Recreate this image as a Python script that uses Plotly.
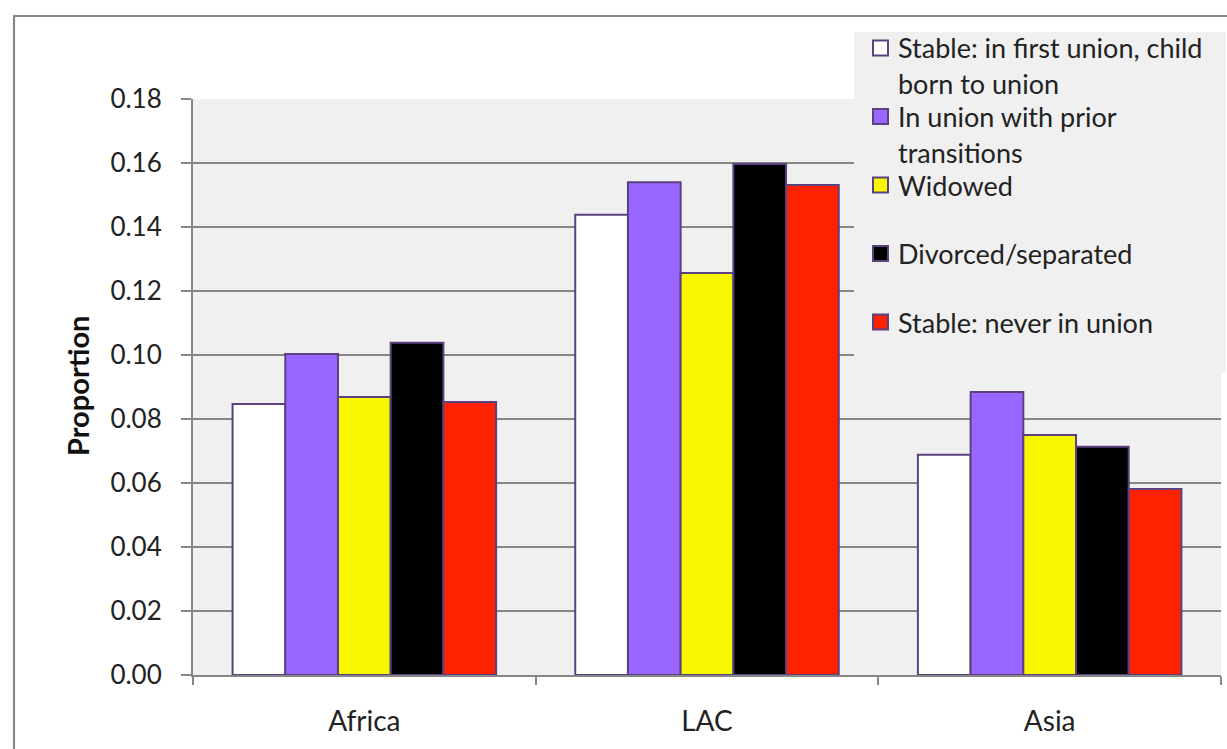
import plotly.graph_objects as go

# Regions and marital-status series
regions = ["Africa", "LAC", "Asia"]
series_names = [
    "Stable: in first union, child born to union",
    "In union with prior transitions",
    "Widowed",
    "Divorced/separated",
    "Stable: never in union",
]
legend_lines = [
    ["Stable: in first union, child", "born to union"],
    ["In union with prior", "transitions"],
    ["Widowed"],
    ["Divorced/separated"],
    ["Stable: never in union"],
]
stable_first_union = [0.0847, 0.1438, 0.0688]
union_prior_transitions = [0.1003, 0.1540, 0.0884]
widowed = [0.0869, 0.1256, 0.0750]
divorced_separated = [0.1038, 0.1597, 0.0713]
stable_never_union = [0.0853, 0.1531, 0.0581]
series_values = [stable_first_union, union_prior_transitions, widowed,
                 divorced_separated, stable_never_union]
colors = ["#FFFFFF", "#9966FF", "#F8F600", "#000000", "#FF2200"]
outline = "#5B4180"

y_ticks = [0.00, 0.02, 0.04, 0.06, 0.08, 0.10, 0.12, 0.14, 0.16, 0.18]

W, H = 1227, 749
L, R, T, B = 193, 6, 99, 74
pw, ph = W - L - R, H - T - B


def px_x(x):
    return (x - L) / pw


def px_y(y):
    return (H - B - y) / ph


FONT = "Lato, Calibri, Carlito, sans-serif"
GRAY = "#868686"

fig = go.Figure()
for name, vals, col in zip(series_names, series_values, colors):
    fig.add_trace(go.Bar(
        x=regions, y=vals, name=name,
        marker=dict(color=col, line=dict(color=outline, width=2)),
        showlegend=False,
    ))

shapes = []
annotations = []

# outer chart border
shapes.append(dict(type="rect", xref="paper", yref="paper",
                   x0=px_x(14), x1=px_x(1240), y0=px_y(760), y1=px_y(16),
                   line=dict(color=GRAY, width=2.2), fillcolor="rgba(0,0,0,0)",
                   layer="above"))

# legend box
shapes.append(dict(type="rect", xref="paper", yref="paper",
                   x0=px_x(854), x1=px_x(1226), y0=px_y(373), y1=px_y(32),
                   line=dict(width=0), fillcolor="#F0F0F0", layer="above"))

for i, (lines, col) in enumerate(zip(legend_lines, colors)):
    y0 = 48 + 68.5 * i
    shapes.append(dict(type="rect", xref="paper", yref="paper",
                       x0=px_x(873), x1=px_x(888), y0=px_y(y0 + 7.5), y1=px_y(y0 - 7.5),
                       line=dict(color=outline, width=2), fillcolor=col,
                       layer="above"))
    for j, line in enumerate(lines):
        annotations.append(dict(
            text=line, xref="paper", yref="paper",
            x=px_x(896), y=px_y(y0 + 36 * j), xanchor="left", yanchor="middle",
            showarrow=False, font=dict(family=FONT, size=27, color="#222222"),
        ))

# y-axis title
annotations.append(dict(
    text="<b>Proportion</b>", xref="paper", yref="paper",
    x=px_x(77), y=px_y(386), xanchor="center", yanchor="middle",
    textangle=-90, showarrow=False,
    font=dict(family=FONT, size=29, color="#111111"),
))

fig.update_layout(
    width=W, height=H,
    margin=dict(l=L, r=R, t=T, b=B),
    paper_bgcolor="#FFFFFF",
    plot_bgcolor="#F0F0F0",
    barmode="group",
    bargap=0.231,
    bargroupgap=0,
    font=dict(family=FONT, size=24, color="#222222"),
    shapes=shapes,
    annotations=annotations,
    xaxis=dict(
        showline=True, linecolor=GRAY, linewidth=2,
        ticks="outside", tickson="boundaries", ticklen=8, tickcolor=GRAY, tickwidth=2,
        ticklabelstandoff=20,
        tickfont=dict(family=FONT, size=28, color="#222222"),
        showgrid=False,
    ),
    yaxis=dict(
        range=[0, 0.18], tickvals=y_ticks, tickformat=".2f",
        showline=True, linecolor=GRAY, linewidth=2,
        ticks="outside", ticklen=10, tickcolor=GRAY, tickwidth=2,
        ticklabelstandoff=14,
        tickfont=dict(family=FONT, size=26, color="#222222"),
        showgrid=True, gridcolor=GRAY, gridwidth=2,
        zeroline=False,
    ),
)

fig.write_html("out.html")
